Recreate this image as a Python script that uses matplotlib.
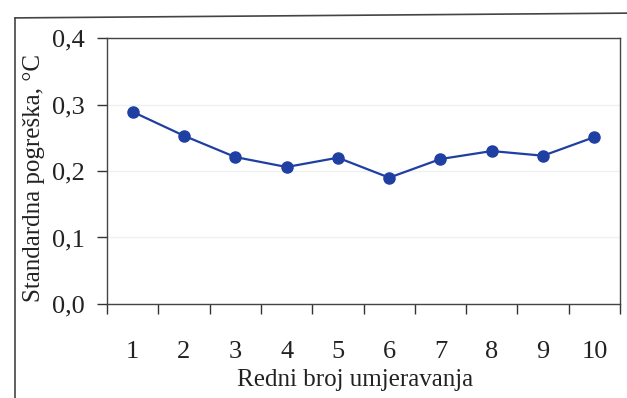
import matplotlib
matplotlib.use("Agg")
import matplotlib.pyplot as plt
from matplotlib.ticker import FixedLocator, FuncFormatter
from matplotlib.lines import Line2D

# Measurement runs and their standard errors
runs = [1, 2, 3, 4, 5, 6, 7, 8, 9, 10]
std_error = [0.289, 0.253, 0.221, 0.206, 0.220, 0.190, 0.218, 0.230, 0.223, 0.251]
y_ticks = [0.0, 0.1, 0.2, 0.3, 0.4]

plt.rcParams['font.family'] = ['Liberation Serif', 'DejaVu Serif']

fig = plt.figure(figsize=(6.27, 3.98), dpi=100)
ax = fig.add_axes([0.1707, 0.2362, 0.8182, 0.6683])

blue = '#1f3fa3'
ax.plot(runs, std_error, color=blue, lw=1.6, marker='o', ms=8,
        markerfacecolor=blue, markeredgecolor=blue)

ax.set_xlim(0.5, 10.5)
ax.set_ylim(0, 0.4)

ax.set_yticks(y_ticks)
ax.yaxis.set_major_formatter(FuncFormatter(lambda v, p: f"{v:.1f}".replace('.', ',')))
ax.tick_params(axis='y', direction='out', length=7, width=1, pad=9,
               labelsize=19, colors='#333333', labelcolor='#222222')

ax.set_xticks(runs)
ax.set_xticklabels([str(r) for r in runs])
ax.tick_params(axis='x', which='major', length=0, pad=27, labelsize=19, labelcolor='#222222')
ax.xaxis.set_minor_locator(FixedLocator([r + 0.5 for r in [0] + runs]))
ax.tick_params(axis='x', which='minor', direction='out', length=7, width=1, color='#333333')

for s in ax.spines.values():
    s.set_color('#444444')
    s.set_linewidth(1.0)

ax.grid(axis='y', color='#f0f0f0', lw=1)
ax.set_axisbelow(True)

ax.set_xlabel('Redni broj umjeravanja', fontsize=18, color='#222222')
ax.set_ylabel('Standardna pogreška, °C', fontsize=18, color='#222222')
ax.xaxis.set_label_coords(0.483, -0.245)
ax.yaxis.set_label_coords(-0.121, 0.474)

# Outer chart frame (top and left edges)
fig.add_artist(Line2D([0.024, 0.024], [0.0, 0.955], transform=fig.transFigure,
                      color='#444444', lw=1.2))
fig.add_artist(Line2D([0.024, 1.0], [0.955, 0.967], transform=fig.transFigure,
                      color='#444444', lw=1.2))

fig.savefig('out.png', dpi=100)
